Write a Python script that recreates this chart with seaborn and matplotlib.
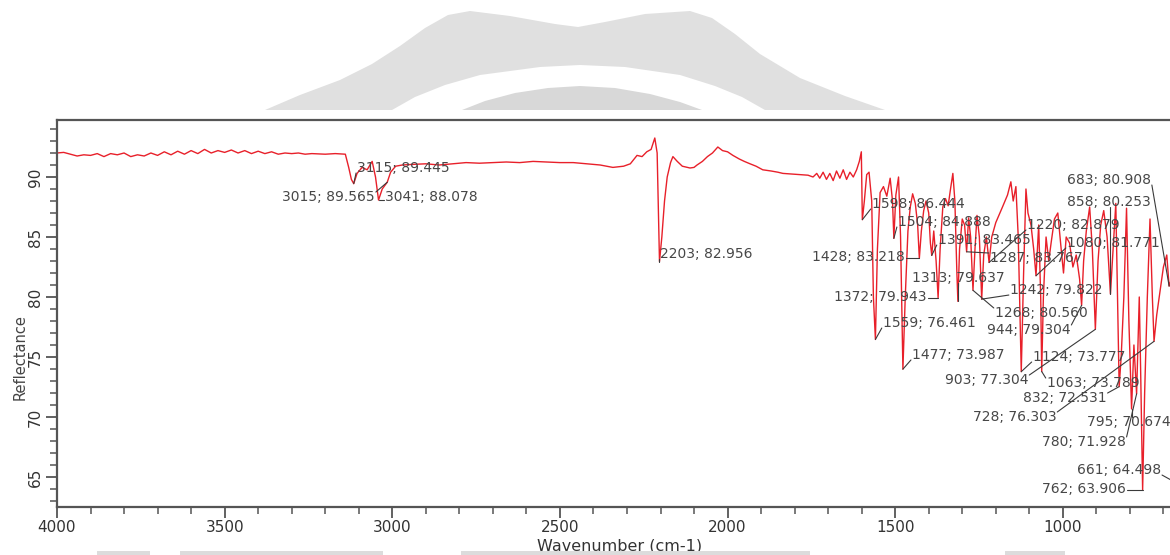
import matplotlib
matplotlib.use("Agg")
import matplotlib.pyplot as plt
from matplotlib.patches import Polygon, Rectangle
from matplotlib.ticker import MultipleLocator
import numpy as np
import pandas as pd
import seaborn as sns

# ---------------- data ----------------
wavenumber = [
    4000, 3980, 3960, 3940, 3920, 3900, 3880, 3860, 3840, 3820, 3800, 3780, 3760, 3740,
    3720, 3700, 3680, 3660, 3640, 3620, 3600, 3580, 3560, 3540, 3520, 3500, 3480, 3460,
    3440, 3420, 3400, 3380, 3360, 3340, 3320, 3300, 3280, 3260, 3240, 3200, 3170, 3140,
    3130, 3122, 3115, 3105, 3090, 3075, 3060, 3050, 3041, 3030, 3015, 3005, 2990, 2970,
    2940, 2900, 2860, 2820, 2780, 2740, 2700, 2660, 2620, 2580, 2540, 2500, 2460, 2420,
    2380, 2342, 2310, 2290, 2270, 2255, 2241, 2228, 2217, 2210, 2203, 2196, 2188, 2180,
    2170, 2163, 2150, 2135, 2112, 2100, 2091, 2075, 2060, 2045, 2029, 2015, 2000, 1984,
    1965, 1950, 1933, 1915, 1895, 1870, 1850, 1835, 1810, 1784, 1760, 1745, 1734, 1725,
    1715, 1705, 1695, 1685, 1675, 1665, 1655, 1645, 1635, 1625, 1615, 1607, 1601, 1598,
    1592, 1585, 1578, 1570, 1565, 1559, 1553, 1545, 1535, 1525, 1515, 1508, 1504, 1498,
    1490, 1484, 1477, 1470, 1462, 1455, 1448, 1440, 1433, 1428, 1422, 1415, 1408, 1400,
    1395, 1391, 1385, 1378, 1372, 1366, 1358, 1350, 1342, 1335, 1328, 1322, 1316, 1313,
    1308, 1300, 1293, 1287, 1281, 1275, 1268, 1262, 1256, 1249, 1242, 1236, 1228, 1220,
    1212, 1200, 1180, 1165, 1155, 1148, 1140, 1133, 1124, 1117, 1110, 1104, 1095, 1087,
    1080, 1072, 1066, 1063, 1058, 1050, 1042, 1035, 1025, 1015, 1005, 998, 990, 980,
    970, 960, 950, 944, 938, 930, 920, 912, 903, 895, 887, 878, 868, 858,
    850, 842, 838, 832, 826, 818, 810, 803, 795, 788, 780, 772, 768, 762,
    756, 748, 740, 733, 728, 720, 710, 700, 690, 683, 676, 668, 661, 655, 645, 620, 600,
]
reflectance = [
    92.0, 92.05, 91.9, 91.75, 91.85, 91.8, 91.95, 91.7, 91.95, 91.85, 92.0, 91.7, 91.85, 91.75,
    92.0, 91.8, 92.1, 91.85, 92.15, 91.9, 92.2, 91.95, 92.3, 92.0, 92.2, 92.05, 92.25, 92.0,
    92.2, 91.95, 92.15, 91.95, 92.1, 91.9, 92.0, 91.95, 92.0, 91.9, 91.95, 91.9, 91.95, 91.9,
    90.8, 89.8, 89.445, 90.3, 90.8, 90.6, 91.3, 90.0, 88.078, 89.0, 89.565, 90.4, 90.9, 91.0,
    91.05, 91.1, 91.0, 91.1, 91.2, 91.15, 91.2, 91.25, 91.2, 91.3, 91.25, 91.2, 91.2, 91.1,
    91.0, 90.8, 90.9, 91.1, 91.8, 91.7, 92.1, 92.3, 93.25, 92.0, 82.956, 85.0, 88.0, 90.0,
    91.2, 91.7, 91.3, 90.9, 90.75, 90.8, 91.0, 91.3, 91.7, 92.0, 92.5, 92.2, 92.1, 91.8,
    91.5, 91.3, 91.1, 90.9, 90.6, 90.5, 90.4, 90.3, 90.25, 90.2, 90.15, 90.0, 90.3, 89.9,
    90.4, 89.8, 90.3, 89.7, 90.5, 89.9, 90.6, 89.8, 90.4, 90.0, 90.6, 91.3, 92.1, 86.444,
    88.0, 90.2, 90.4, 88.0, 80.0, 76.461, 84.0, 88.7, 89.2, 88.4, 89.9, 88.0, 84.888, 88.5,
    90.0, 85.0, 73.987, 80.0, 85.5, 87.5, 88.6, 87.8, 86.0, 83.218, 85.5, 87.2, 88.0, 87.0,
    84.5, 83.465, 85.5, 83.0, 79.943, 84.0, 87.5, 88.2, 87.6, 89.0, 90.3, 88.0, 82.0, 79.637,
    84.0, 86.5, 86.0, 83.767, 86.6, 85.0, 80.56, 84.0, 86.8, 85.0, 79.822, 83.5, 85.0, 82.879,
    85.0, 86.2, 87.5, 88.5, 89.6, 88.0, 89.2, 85.0, 73.777, 82.0, 89.0, 87.0, 86.0, 84.0,
    81.771, 86.0, 80.0, 73.789, 80.0, 85.0, 83.0, 84.5, 86.5, 87.0, 84.0, 82.0, 85.0, 84.5,
    82.5, 83.5, 81.5, 79.304, 83.0, 85.5, 87.5, 84.0, 77.304, 83.0, 86.0, 87.2, 85.0, 80.253,
    84.0, 87.8, 82.0, 72.531, 75.0, 80.0, 87.4, 78.0, 70.674, 76.0, 71.928, 80.0, 74.0, 63.906,
    72.0, 80.0, 86.5, 80.0, 76.303, 78.5, 80.5, 82.5, 83.5, 80.908, 81.5, 75.0, 64.498, 70.0, 78.0, 82.0, 84.0,
]

peak_wn = [3115, 3015, 3041, 2203, 1598, 1504, 1428, 1391, 1313, 1287, 1220, 1080, 683, 858,
           1372, 1242, 1268, 1559, 944, 1477, 1124, 903, 1063, 832, 728, 795, 780, 661, 762]
peak_val = [89.445, 89.565, 88.078, 82.956, 86.444, 84.888, 83.218, 83.465, 79.637, 83.767,
            82.879, 81.771, 80.908, 80.253, 79.943, 79.822, 80.560, 76.461, 79.304, 73.987,
            73.777, 77.304, 73.789, 72.531, 76.303, 70.674, 71.928, 64.498, 63.906]

# label layout (text anchor in data units, horizontal alignment)
label_x = [3105, 3052, 3022, 2202, 1570, 1492, 1471, 1373, 1450, 1218, 1107, 988, 988, 988,
           1406, 1158, 1203, 1537, 1227, 1450, 1090, 1352, 1048, 1119, 1269, 929, 1063, 958, 1063]
label_y = [90.75, 88.33, 88.33, 83.58, 87.75, 86.25, 83.33, 84.75, 81.58, 83.25, 86.0, 84.5,
           89.75, 87.92, 80.0, 80.58, 78.67, 77.83, 77.25, 75.17, 75.0, 73.08, 72.83, 71.58,
           70.0, 69.58, 67.92, 65.58, 64.0]
label_ha = ["left", "right", "left", "left", "left", "left", "right", "left", "left", "left",
            "left", "left", "left", "left", "right", "left", "left", "left", "left", "left",
            "left", "left", "left", "left", "left", "left", "left", "left", "left"]

x_ticks = [4000, 3500, 3000, 2500, 2000, 1500, 1000]
y_ticks = [65, 70, 75, 80, 85, 90]

# ---------------- figure ----------------
sns.set_theme(style="white")
plt.rcParams["font.family"] = ["DejaVu Sans"]

W, H = 1170, 555
fig = plt.figure(figsize=(W / 100, H / 100), dpi=100)
fig.patch.set_facecolor("white")

def fx(px):
    return px / W

def fy(py):
    return 1 - py / H

# faint watermark behind the chart
dome = [(265, 110), (300, 95), (340, 80), (372, 64), (400, 46), (425, 28), (448, 15),
        (470, 11), (510, 16), (555, 24), (578, 27), (605, 22), (645, 14), (690, 11),
        (712, 18), (735, 34), (760, 54), (800, 78), (845, 96), (885, 110)]
fig.patches.append(Polygon([(fx(a), fy(b)) for a, b in dome], closed=True,
                           transform=fig.transFigure, facecolor="#e0e0e0",
                           edgecolor="none", zorder=0))
arc_w = [(392, 110), (415, 97), (445, 85), (480, 75), (540, 67), (580, 65), (625, 67),
         (680, 75), (715, 86), (742, 97), (765, 110)]
fig.patches.append(Polygon([(fx(a), fy(b)) for a, b in arc_w], closed=True,
                           transform=fig.transFigure, facecolor="white",
                           edgecolor="none", zorder=0))
arc_g = [(462, 110), (485, 101), (515, 93), (548, 88), (580, 86), (615, 88), (650, 94),
         (680, 102), (702, 110)]
fig.patches.append(Polygon([(fx(a), fy(b)) for a, b in arc_g], closed=True,
                           transform=fig.transFigure, facecolor="#d8d8d8",
                           edgecolor="none", zorder=0))
for x0, x1 in [(97, 150), (180, 383), (461, 810), (1005, 1065)]:
    fig.patches.append(Rectangle((fx(x0), 0), fx(x1 - x0), 4 / H,
                                 transform=fig.transFigure, facecolor="#dcdcdc",
                                 edgecolor="none", zorder=0))

ax = fig.add_axes([fx(57), fy(507), 1207 / W, 387 / H])
ax.set_facecolor("white")

df = pd.DataFrame({"Wavenumber": wavenumber, "Reflectance": reflectance})
sns.lineplot(data=df, x="Wavenumber", y="Reflectance", ax=ax, color="#e8202a",
             linewidth=1.0, estimator=None, sort=True)

ax.set_xlim(4000, 400)
ax.set_ylim(62.5, 94.75)
ax.set_xticks(x_ticks)
ax.set_xticklabels([str(t) for t in x_ticks])
ax.set_yticks(y_ticks)
ax.set_yticklabels([str(t) for t in y_ticks])
ax.xaxis.set_minor_locator(MultipleLocator(100))
ax.yaxis.set_minor_locator(MultipleLocator(1))

spine_c = "#555555"
for s in ["top", "bottom", "left", "right"]:
    ax.spines[s].set_color(spine_c)
    ax.spines[s].set_linewidth(1.6)
ax.spines["right"].set_visible(False)

ax.tick_params(axis="both", which="major", direction="out", length=8, width=1.3,
               color=spine_c, labelcolor="#333333", labelsize=11)
ax.tick_params(axis="both", which="minor", direction="out", length=5, width=1.1,
               color=spine_c)
ax.tick_params(axis="x", which="both", bottom=True, top=False, pad=1.5)
ax.tick_params(axis="y", which="both", left=True, right=False, pad=2)
for lab in ax.get_yticklabels():
    lab.set_rotation(90)
    lab.set_va("center")

ax.set_xlabel("Wavenumber (cm-1)", fontsize=11.5, color="#333333", va="center")
ax.xaxis.set_label_coords((620 - 57) / 1207, (507 - 546) / 387)
ax.set_ylabel("Reflectance", fontsize=10.5, color="#444444", va="center")
ax.yaxis.set_label_coords((20 - 57) / 1207, (507 - 357) / 387)

texts = []
for wn, val, lx, ly, ha in zip(peak_wn, peak_val, label_x, label_y, label_ha):
    t = ax.text(lx, ly, f"{wn}; {val:.3f}", ha=ha, va="center", fontsize=10,
                color="#474747", zorder=5)
    texts.append((t, wn, val))

fig.canvas.draw()
renderer = fig.canvas.get_renderer()
inv = ax.transData.inverted()
for t, wn, val in texts:
    bb = t.get_window_extent(renderer)
    px, py = ax.transData.transform((wn, val))
    qx = min(max(px, bb.x0 - 1), bb.x1 + 1)
    qy = min(max(py, bb.y0 + 2), bb.y1 - 2)
    if bb.x0 <= px <= bb.x1 and bb.y0 <= py <= bb.y1:
        continue
    (dx0, dy0), (dx1, dy1) = inv.transform([(px, py), (qx, qy)])
    ax.plot([dx0, dx1], [dy0, dy1], color="#3a3a3a", linewidth=0.8, zorder=4)

fig.savefig("out.png", dpi=100, facecolor="white")
